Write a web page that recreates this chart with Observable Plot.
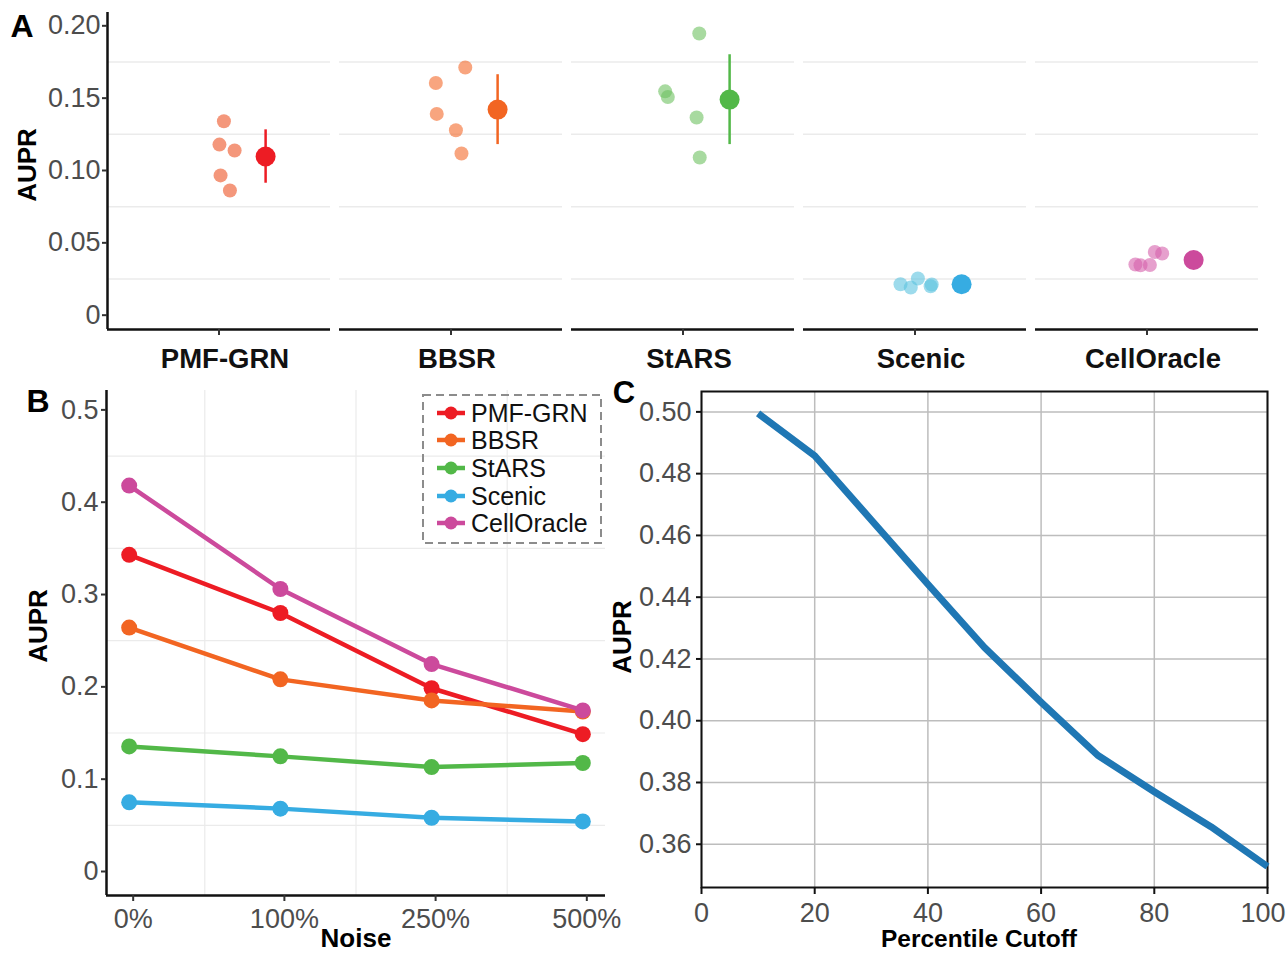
<!DOCTYPE html>
<html>
<head>
<meta charset="utf-8">
<script src="https://cdn.jsdelivr.net/npm/d3@7"></script>
<script src="https://cdn.jsdelivr.net/npm/@observablehq/plot@0.6"></script>
<style>
  body { margin: 0; background: #fff; }
  #fig { position: relative; width: 1286px; height: 953px; background: #fff; overflow: hidden;
         font-family: "Liberation Sans", Arial, Helvetica, sans-serif; }
  #fig svg.pl { position: absolute; overflow: visible; }
  .lbl { position: absolute; white-space: nowrap; line-height: 1; color: #000; }
</style>
</head>
<body>
<div id="fig"></div>
<script>
// ---------- data ----------
const methods = ["PMF-GRN", "BBSR", "StARS", "Scenic", "CellOracle"];
const methodColors = ["#ED1C24", "#F26522", "#52B848", "#36ACE2", "#CC4A9C"];
const runColors = ["#EC5223", "#F3692A", "#6EC161", "#5CC3DF", "#D561AC"];

// Panel A: individual runs (AUPR) and their horizontal jitter
const pmfRuns = [0.1340, 0.1179, 0.1138, 0.0966, 0.0862];
const bbsrRuns = [0.1712, 0.1605, 0.1391, 0.1278, 0.1117];
const starsRuns = [0.1947, 0.1547, 0.1508, 0.1366, 0.1090];
const scenicRuns = [0.0214, 0.0191, 0.0253, 0.0212, 0.0200];
const cellOracleRuns = [0.0350, 0.0345, 0.0347, 0.0437, 0.0426];
const pmfJitter = [0.022, 0.002, 0.070, 0.007, 0.049];
const bbsrJitter = [0.064, -0.068, -0.064, 0.022, 0.047];
const starsJitter = [0.073, -0.080, -0.068, 0.061, 0.075];
const scenicJitter = [-0.065, -0.019, 0.013, 0.075, 0.070];
const cellOracleJitter = [-0.052, -0.029, 0.013, 0.035, 0.068];
const meanValues = [0.1097, 0.1421, 0.1490, 0.0214, 0.0381];
const errLow = [0.0912, 0.1179, 0.1179, 0.0196, 0.0352];
const errHigh = [0.1281, 0.1662, 0.1800, 0.0232, 0.0410];
const aTicks = [0, 0.05, 0.10, 0.15, 0.20];

// Panel B: AUPR vs noise
const noiseLabels = ["0%", "100%", "250%", "500%"];
const pmfNoise = [0.343, 0.280, 0.1985, 0.1487];
const bbsrNoise = [0.2642, 0.2081, 0.1853, 0.1733];
const starsNoise = [0.1355, 0.1247, 0.1131, 0.1175];
const scenicNoise = [0.0749, 0.0681, 0.0582, 0.0542];
const cellOracleNoise = [0.4180, 0.3060, 0.2247, 0.1745];
const bTicks = [0, 0.1, 0.2, 0.3, 0.4, 0.5];

// Panel C: AUPR vs percentile cutoff
const percentile = [10, 20, 30, 40, 50, 60, 70, 80, 90, 100];
const cutoffAupr = [0.4995, 0.4858, 0.4650, 0.4442, 0.4237, 0.4060, 0.3888, 0.3770, 0.3657, 0.3528];
const cTicksX = [0, 20, 40, 60, 80, 100];
const cTicksY = [0.36, 0.38, 0.40, 0.42, 0.44, 0.46, 0.48, 0.50];

// ---------- helpers ----------
const FONT = '"Liberation Sans", Arial, Helvetica, sans-serif';
const TICK = 27;
const baseStyle = {background: "transparent", fontFamily: FONT, fontSize: TICK + "px", overflow: "visible"};
const fig = document.getElementById("fig");
function place(svg, left, top) {
  svg.classList.add("pl");
  svg.style.left = left + "px";
  svg.style.top = top + "px";
  fig.appendChild(svg);
}
function label(text, cx, cy, size, weight, rotate) {
  const d = document.createElement("div");
  d.className = "lbl";
  d.textContent = text;
  d.style.left = cx + "px";
  d.style.top = cy + "px";
  d.style.fontSize = size + "px";
  d.style.fontWeight = weight;
  d.style.transform = "translate(-50%,-50%)" + (rotate ? " rotate(-90deg)" : "");
  fig.appendChild(d);
}
const fmtTick = (digits) => (d) => d === 0 ? "0" : d.toFixed(digits);

// ---------- Panel A ----------
const runArrays = [pmfRuns, bbsrRuns, starsRuns, scenicRuns, cellOracleRuns];
const jitterArrays = [pmfJitter, bbsrJitter, starsJitter, scenicJitter, cellOracleJitter];
const center = 0.5, meanNudge = 0.209;
const runsData = methods.flatMap((m, i) => runArrays[i].map((v, j) => ({method: m, x: center + jitterArrays[i][j], y: v, color: runColors[i]})));
const summary = methods.map((m, i) => ({method: m, mean: meanValues[i], lo: errLow[i], hi: errHigh[i], color: methodColors[i]}));
const yA = [-0.0099, 0.2092];
const xA = [0, 1];
const minorA = aTicks.slice(0, -1).map((t, i) => (t + aTicks[i + 1]) / 2);

const plotA = Plot.plot({
  width: 1286, height: 380,
  marginLeft: 107, marginRight: 28, marginTop: 12, marginBottom: 51,
  style: baseStyle,
  fx: {domain: methods, paddingInner: 0.039, paddingOuter: 0, axis: null, label: null},
  x: {domain: xA, axis: null},
  y: {domain: yA, axis: null},
  color: {type: "identity"},
  marks: [
    Plot.gridY(minorA, {stroke: "#EBEBEB", strokeOpacity: 1, strokeWidth: 1.5}),
    Plot.ruleY([yA[0]], {stroke: "#111", strokeWidth: 2.5}),
    Plot.ruleX([methods[0]], {fx: d => d, x: () => xA[0], stroke: "#111", strokeWidth: 2.5}),
    Plot.axisX({ticks: [center], tickFormat: () => "", tickSize: 6, stroke: "#333", strokeWidth: 2, label: null}),
    Plot.axisY({ticks: aTicks, tickFormat: fmtTick(2), tickSize: 5, tickPadding: 2, fontSize: TICK,
                fill: "#4D4D4D", stroke: "#333", strokeWidth: 2, label: null}),
    Plot.axisFx({anchor: "bottom", tickSize: 0, tickPadding: 19, fontSize: 27.5, fontWeight: "bold",
                 fill: "#111", dx: 6, label: null}),
    Plot.dot(runsData, {fx: "method", x: "x", y: "y", r: 7, fill: "color", fillOpacity: 0.6}),
    Plot.ruleX(summary, {fx: "method", x: () => center + meanNudge, y1: "lo", y2: "hi", stroke: "color", strokeWidth: 2.5}),
    Plot.dot(summary, {fx: "method", x: () => center + meanNudge, y: "mean", r: 10, fill: "color"})
  ]
});
place(plotA, 0, 0);

// ---------- Panel B ----------
const noiseArrays = [pmfNoise, bbsrNoise, starsNoise, scenicNoise, cellOracleNoise];
const noiseRows = methods.flatMap((m, i) => noiseArrays[i].map((v, j) => ({method: m, i: j, v, color: methodColors[i]})));
const xB = [-0.15, noiseLabels.length - 1 + 0.15];
const yB = [-0.026, 0.521];
const minorB = bTicks.slice(0, -1).map((t, i) => (t + bTicks[i + 1]) / 2);
const minorXB = d3.range(noiseLabels.length - 1).map(i => i + 0.5);

const plotB = Plot.plot({
  width: 620, height: 573,
  marginLeft: 106, marginRight: 15, marginTop: 10, marginBottom: 58,
  style: baseStyle,
  x: {domain: xB, axis: null},
  y: {domain: yB, axis: null},
  color: {type: "identity"},
  marks: [
    Plot.gridY(minorB, {stroke: "#EBEBEB", strokeOpacity: 1, strokeWidth: 1.2}),
    Plot.gridX(minorXB, {stroke: "#EBEBEB", strokeOpacity: 1, strokeWidth: 1.2}),
    Plot.ruleX([xB[0]], {stroke: "#111", strokeWidth: 2.5}),
    Plot.ruleY([yB[0]], {stroke: "#111", strokeWidth: 2.5}),
    Plot.axisY({ticks: bTicks, tickFormat: fmtTick(1), tickSize: 5, tickPadding: 3, fontSize: TICK,
                fill: "#4D4D4D", stroke: "#333", strokeWidth: 2, label: null}),
    Plot.axisX({ticks: d3.range(noiseLabels.length), tickFormat: i => noiseLabels[i], tickSize: 6, tickPadding: 7,
                fontSize: TICK, fill: "#4D4D4D", stroke: "#333", strokeWidth: 2, dx: 4, label: null}),
    Plot.line(noiseRows, {x: "i", y: "v", z: "method", stroke: "color", strokeWidth: 4.5}),
    Plot.dot(noiseRows, {x: "i", y: "v", r: 8, fill: "color"})
  ]
});
place(plotB, 0, 380);

// ---------- Panel C ----------
const cRows = percentile.map((p, i) => ({p, a: cutoffAupr[i]}));
const lastX = cTicksX[cTicksX.length - 1];
const plotC = Plot.plot({
  width: 686, height: 573,
  marginLeft: 101, marginRight: 19, marginTop: 11, marginBottom: 66,
  style: baseStyle,
  x: {domain: [cTicksX[0], lastX], axis: null},
  y: {domain: [0.3460, 0.5066], axis: null},
  marks: [
    Plot.gridX(cTicksX, {stroke: "#BDBDBD", strokeOpacity: 1, strokeWidth: 1.5}),
    Plot.gridY(cTicksY, {stroke: "#BDBDBD", strokeOpacity: 1, strokeWidth: 1.5}),
    Plot.frame({stroke: "#111", strokeWidth: 2}),
    Plot.axisY({ticks: cTicksY, tickFormat: d3.format(".2f"), tickSize: 5, tickPadding: 5, fontSize: TICK,
                fill: "#4D4D4D", stroke: "#111", strokeWidth: 2, label: null}),
    Plot.axisX({ticks: cTicksX, tickFormat: d => d === lastX ? "" : d3.format("d")(d), tickSize: 7, tickPadding: 8,
                fontSize: TICK, fill: "#4D4D4D", stroke: "#111", strokeWidth: 2, label: null}),
    Plot.axisX({ticks: [lastX], tickFormat: d3.format("d"), tickSize: 0, tickPadding: 15, fontSize: TICK,
                fill: "#4D4D4D", textAnchor: "end", dx: 18, label: null}),
    Plot.line(cRows, {x: "p", y: "a", stroke: "#1F77B4", strokeWidth: 7, strokeLinecap: "butt"})
  ]
});
place(plotC, 600, 380);

// ---------- titles / panel letters ----------
label("A", 22, 26, 32, "bold");
label("B", 38, 401, 32, "bold");
label("C", 624, 392, 31, "bold");
label("AUPR", 27, 165, 26, "bold", true);
label("AUPR", 38, 626, 26, "bold", true);
label("AUPR", 622, 637, 26, "bold", true);
label("Noise", 356, 938, 26, "bold");
label("Percentile Cutoff", 979, 939, 24.5, "bold");

// ---------- legend for panel B ----------
const ns = "http://www.w3.org/2000/svg";
const box = document.createElementNS(ns, "svg");
box.setAttribute("width", 182); box.setAttribute("height", 152);
box.style.cssText = "position:absolute;left:422px;top:394px;";
const rect = document.createElementNS(ns, "rect");
rect.setAttribute("x", 1); rect.setAttribute("y", 1); rect.setAttribute("width", 178); rect.setAttribute("height", 148);
rect.setAttribute("fill", "none"); rect.setAttribute("stroke", "#8C8C8C"); rect.setAttribute("stroke-width", 2);
rect.setAttribute("stroke-dasharray", "8 5");
box.appendChild(rect);
fig.appendChild(box);
methods.forEach((m, i) => {
  const cy = 412.7 + i * 27.65;
  const sw = document.createElementNS(ns, "svg");
  sw.setAttribute("width", 30); sw.setAttribute("height", 16);
  sw.style.cssText = `position:absolute;left:436px;top:${cy - 8}px;`;
  const ln = document.createElementNS(ns, "line");
  ln.setAttribute("x1", 1); ln.setAttribute("x2", 29); ln.setAttribute("y1", 8); ln.setAttribute("y2", 8);
  ln.setAttribute("stroke", methodColors[i]); ln.setAttribute("stroke-width", 4.5);
  const c = document.createElementNS(ns, "circle");
  c.setAttribute("cx", 15); c.setAttribute("cy", 8); c.setAttribute("r", 6.5); c.setAttribute("fill", methodColors[i]);
  sw.appendChild(ln); sw.appendChild(c);
  fig.appendChild(sw);
  const t = document.createElement("div");
  t.className = "lbl";
  t.textContent = m;
  t.style.cssText += `left:471px;top:${cy}px;font-size:25px;color:#111;transform:translateY(-50%);`;
  fig.appendChild(t);
});
</script>
</body>
</html>
